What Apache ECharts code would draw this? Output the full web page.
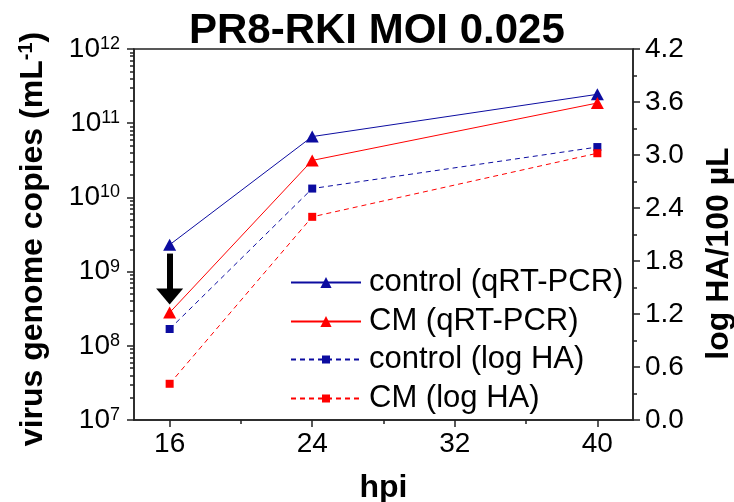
<!DOCTYPE html>
<html>
<head>
<meta charset="utf-8">
<script src="https://cdn.jsdelivr.net/npm/echarts@6/dist/echarts.min.js"></script>
<style>html,body{margin:0;padding:0;background:#fff;}#c{width:734px;height:502px;}</style>
</head>
<body>
<div id="c"></div>
<script>
const FONT = "'Liberation Sans', Arial, sans-serif";
const hpi = [16, 24, 40];
const controlQ = [2.3e9, 6.6e10, 2.45e11];
const cmQ = [2.8e8, 3.15e10, 1.87e11];
const controlHA = [1.03, 2.62, 3.09];
const cmHA = [0.41, 2.30, 3.02];
const xMajor = [16, 24, 32, 40];
const xMinor = [20, 28, 36];
const leftMinorExp = [];
for (let e = 7; e < 12; e++) { for (let k = 2; k <= 9; k++) leftMinorExp.push(e + Math.log10(k)); }
const arrowFrom = [16, 1.75e9];
const arrowTo = [16, 4.6e8];
const names = ['control (qRT-PCR)', 'CM (qRT-PCR)', 'control (log HA)', 'CM (log HA)'];
const BLUE = '#0c0ca0', RED = '#ff0000', AX = '#222';

const chart = echarts.init(document.getElementById('c'));
const axisLineStyle = { show: true, lineStyle: { color: AX, width: 1.5 }, onZero: false };
const gridRect = { left: 134, right: 101, top: 49, bottom: 82, outerBoundsMode: 'none', containLabel: false };
const legendBase = {
  orient: 'vertical', left: 285, itemWidth: 70, itemGap: 8,
  textStyle: { fontSize: 31, fontFamily: FONT, color: '#000', lineHeight: 30, padding: [0, 0, 0, 3] }
};
chart.setOption({
  animation: false,
  title: { text: 'PR8-RKI MOI 0.025', left: 184, top: 5,
    textStyle: { fontSize: 42, fontWeight: 'bold', fontFamily: FONT, color: '#000' } },
  grid: [
    Object.assign({ show: true, borderColor: AX, borderWidth: 1.5 }, gridRect),
    Object.assign({ show: false }, gridRect)
  ],
  legend: [
    Object.assign({}, legendBase, { top: 262, itemHeight: 14, data: [names[0], names[1]] }),
    Object.assign({}, legendBase, { top: 339, itemHeight: 10, data: [names[2], names[3]] })
  ],
  xAxis: [
    { type: 'value', gridIndex: 0, min: 14, max: 42, position: 'bottom',
      name: 'hpi', nameLocation: 'middle', nameGap: 52,
      nameTextStyle: { fontSize: 32, fontWeight: 'bold', fontFamily: FONT, color: '#000' },
      axisLine: axisLineStyle,
      axisTick: { show: true, customValues: xMajor, length: 7, lineStyle: { color: AX, width: 1.5 } },
      axisLabel: { customValues: xMajor, margin: 10, fontSize: 28, fontFamily: FONT, color: '#000' },
      splitLine: { show: false } },
    { type: 'value', gridIndex: 1, min: 14, max: 42, position: 'bottom',
      axisLine: { show: false, onZero: false },
      axisTick: { show: true, customValues: xMinor, length: 4, lineStyle: { color: AX, width: 1.5 } },
      axisLabel: { show: true, customValues: xMinor, formatter: () => '' }, splitLine: { show: false } }
  ],
  yAxis: [
    { type: 'log', gridIndex: 0, logBase: 10, min: 1e7, max: 1e12, position: 'left',
      name: '{a|virus genome copies (mL}{s|-1}{a|)}', nameLocation: 'middle', nameGap: 84, nameRotate: 90,
      nameTextStyle: { padding: [0, 9, 0, 0], rich: {
        a: { fontSize: 32, fontWeight: 'bold', fontFamily: FONT, color: '#000', lineHeight: 34 },
        s: { fontSize: 20, fontWeight: 'bold', fontFamily: FONT, color: '#000', lineHeight: 20, verticalAlign: 'top' } } },
      axisLine: axisLineStyle,
      axisTick: { show: true, length: 7, lineStyle: { color: AX, width: 1.5 } },
      axisLabel: { margin: 14,
        formatter: v => '{b|10}{s|' + Math.round(Math.log10(v)) + '}',
        rich: {
          b: { fontSize: 28, fontFamily: FONT, color: '#000', lineHeight: 28, verticalAlign: 'bottom' },
          s: { fontSize: 18, fontFamily: FONT, color: '#000', lineHeight: 18, verticalAlign: 'top' } } },
      splitLine: { show: false } },
    { type: 'value', gridIndex: 0, min: 0, max: 4.2, interval: 0.6, position: 'right',
      name: 'log HA/100 µL', nameLocation: 'middle', nameGap: 70, nameRotate: 90,
      nameTextStyle: { fontSize: 32, fontWeight: 'bold', fontFamily: FONT, color: '#000', padding: [0, 38, 0, 0] },
      axisLine: axisLineStyle,
      axisTick: { show: true, length: 7, lineStyle: { color: AX, width: 1.5 } },
      minorTick: { show: true, splitNumber: 2, length: 4, lineStyle: { color: AX, width: 1.5 } },
      axisLabel: { margin: 12, fontSize: 28, fontFamily: FONT, color: '#000', formatter: v => v.toFixed(1) },
      splitLine: { show: false } },
    { type: 'value', gridIndex: 1, min: 7, max: 12, position: 'left',
      axisLine: { show: false, onZero: false },
      axisTick: { show: true, customValues: leftMinorExp, length: 4, lineStyle: { color: AX, width: 1.5 } },
      axisLabel: { show: true, customValues: leftMinorExp, formatter: () => '' }, splitLine: { show: false } }
  ],
  series: [
    { name: names[0], type: 'line', xAxisIndex: 0, yAxisIndex: 0,
      data: hpi.map((x, i) => [x, controlQ[i]]),
      symbol: 'triangle', symbolSize: [13, 12], itemStyle: { color: BLUE }, lineStyle: { color: BLUE, width: 1 },
      markLine: { silent: true, symbol: ['none', 'triangle'], symbolSize: [27, 16], label: { show: false },
        lineStyle: { color: '#000', width: 6, type: 'solid' },
        data: [[{ coord: arrowFrom }, { coord: arrowTo }]] } },
    { name: names[1], type: 'line', xAxisIndex: 0, yAxisIndex: 0,
      data: hpi.map((x, i) => [x, cmQ[i]]),
      symbol: 'triangle', symbolSize: [13, 12], itemStyle: { color: RED }, lineStyle: { color: RED, width: 1 } },
    { name: names[2], type: 'line', xAxisIndex: 0, yAxisIndex: 1,
      data: hpi.map((x, i) => [x, controlHA[i]]),
      symbol: 'rect', symbolSize: 8, itemStyle: { color: BLUE }, lineStyle: { color: BLUE, width: 1, type: [5, 4] } },
    { name: names[3], type: 'line', xAxisIndex: 0, yAxisIndex: 1,
      data: hpi.map((x, i) => [x, cmHA[i]]),
      symbol: 'rect', symbolSize: 8, itemStyle: { color: RED }, lineStyle: { color: RED, width: 1, type: [5, 4] } },
    { type: 'line', xAxisIndex: 1, yAxisIndex: 2, data: [], silent: true }
  ]
});
</script>
</body>
</html>
